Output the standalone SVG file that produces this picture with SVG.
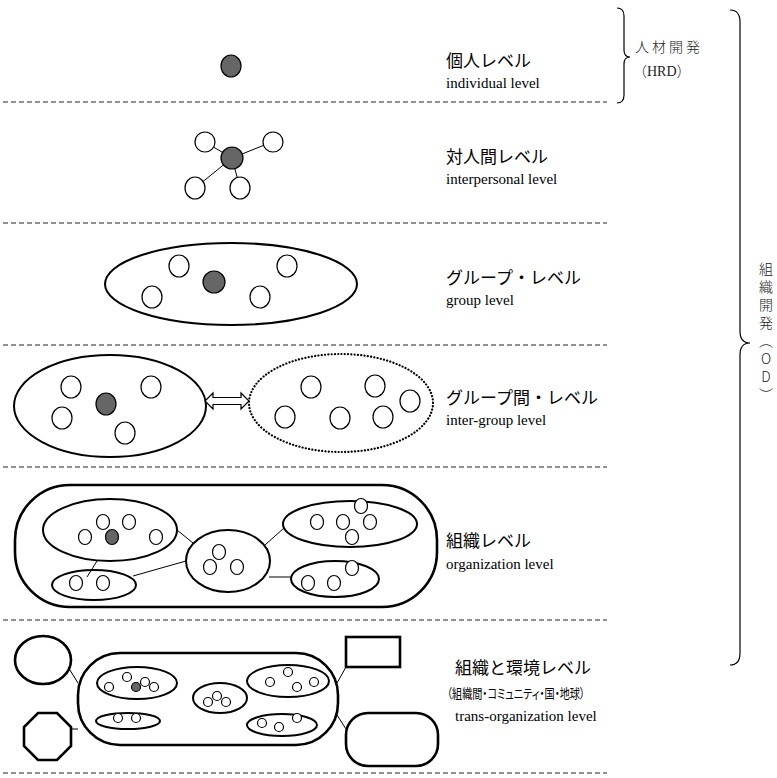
<svg xmlns="http://www.w3.org/2000/svg" width="777" height="778" viewBox="0 0 777 778">
<style>
.bg{fill:#fff}
.w{fill:#fff;stroke:#000;stroke-width:1.2}
.d{fill:#666;stroke:#000;stroke-width:1.2}
.e{fill:none;stroke:#000;stroke-width:2}
.E{fill:none;stroke:#000;stroke-width:2.6}
.dot{fill:none;stroke:#000;stroke-width:2.2;stroke-dasharray:0.1 3.2;stroke-linecap:round}
.c{stroke:#000;stroke-width:1;fill:none}
.dash{stroke:#222;stroke-width:1;stroke-dasharray:5 3}
.jp{font-family:"Noto Sans CJK JP","Noto Sans",sans-serif;font-size:17px;fill:#000}
.en{font-family:"Liberation Serif",serif;font-size:15px;fill:#000}
.note{font-family:"Noto Sans CJK JP",sans-serif;font-size:14px;fill:#222;font-weight:300}
.br{fill:none;stroke:#000;stroke-width:1.2}
</style>
<rect class="bg" x="0" y="0" width="777" height="778"/>

<g id="separators">
<line class="dash" x1="3" y1="102" x2="607" y2="102"/>
<line class="dash" x1="3" y1="223" x2="607" y2="223"/>
<line class="dash" x1="3" y1="345" x2="607" y2="345"/>
<line class="dash" x1="3" y1="467" x2="607" y2="467"/>
<line class="dash" x1="3" y1="620" x2="607" y2="620"/>
<line class="dash" x1="3" y1="773" x2="607" y2="773"/>
</g>

<g id="connectors">
<line class="c" x1="232" y1="158" x2="205" y2="142"/>
<line class="c" x1="232" y1="158" x2="272" y2="142"/>
<line class="c" x1="232" y1="158" x2="195" y2="188"/>
<line class="c" x1="232" y1="158" x2="240" y2="188"/>
<line class="c" x1="97" y1="561" x2="87" y2="577"/>
<line class="c" x1="177" y1="530" x2="193" y2="543"/>
<line class="c" x1="133" y1="576" x2="186" y2="561"/>
<line class="c" x1="265" y1="545" x2="284" y2="528"/>
<line class="c" x1="269" y1="577" x2="292" y2="577"/>
<line class="c" x1="68" y1="667" x2="78" y2="683"/>
<line class="c" x1="71" y1="729" x2="78" y2="729"/>
<line class="c" x1="337" y1="683" x2="346" y2="667"/>
<line class="c" x1="337" y1="715" x2="346" y2="729"/>
</g>

<g id="individual">
<ellipse class="d" cx="231" cy="66" rx="10" ry="11"/>
<text class="jp" x="446" y="67">個人レベル</text>
<text class="en" x="446" y="88">individual level</text>
</g>

<g id="interpersonal">
<ellipse class="d" cx="232" cy="158" rx="11" ry="11"/>
<ellipse class="w" cx="205" cy="142" rx="10" ry="10"/>
<ellipse class="w" cx="273" cy="142" rx="10" ry="10"/>
<ellipse class="w" cx="195" cy="188" rx="10" ry="11"/>
<ellipse class="w" cx="240" cy="188" rx="10" ry="11"/>
<text class="jp" x="446" y="163">対人間レベル</text>
<text class="en" x="446" y="184">interpersonal level</text>
</g>

<g id="group">
<ellipse class="e" cx="231" cy="284" rx="126" ry="41"/>
<ellipse class="w" cx="179" cy="266" rx="10" ry="11"/>
<ellipse class="w" cx="287" cy="266" rx="10" ry="11"/>
<ellipse class="w" cx="152" cy="297" rx="10" ry="11"/>
<ellipse class="w" cx="260" cy="297" rx="10" ry="11"/>
<ellipse class="d" cx="214" cy="282" rx="11" ry="11"/>
<text class="jp" x="446" y="284">グループ・レベル</text>
<text class="en" x="446" y="305">group level</text>
</g>

<g id="inter-group">
<ellipse class="e" cx="110" cy="406" rx="96" ry="51"/>
<ellipse class="w" cx="71" cy="387" rx="10" ry="11"/>
<ellipse class="w" cx="151" cy="387" rx="10" ry="11"/>
<ellipse class="w" cx="62" cy="418" rx="10" ry="11"/>
<ellipse class="d" cx="106" cy="404" rx="10" ry="11"/>
<ellipse class="w" cx="125" cy="433" rx="10" ry="11"/>
<polygon class="w" points="205,401 213,393 213,397.5 241,397.5 241,393 249,401 241,409 241,404.5 213,404.5 213,409"/>
<ellipse class="dot" cx="341" cy="403" rx="92" ry="49"/>
<ellipse class="w" cx="311" cy="387" rx="10" ry="11"/>
<ellipse class="w" cx="375" cy="386" rx="10" ry="11"/>
<ellipse class="w" cx="410" cy="401" rx="10" ry="11"/>
<ellipse class="w" cx="285" cy="417" rx="10" ry="11"/>
<ellipse class="w" cx="340" cy="418" rx="10" ry="11"/>
<ellipse class="w" cx="383" cy="417" rx="10" ry="11"/>
<text class="jp" x="446" y="404">グループ間・レベル</text>
<text class="en" x="446" y="425">inter-group level</text>
</g>

<g id="organization">
<rect class="E" x="15" y="485" width="422" height="122" rx="55" ry="55"/>
<ellipse class="e" cx="110" cy="530" rx="67" ry="31"/>
<ellipse class="w" cx="103" cy="522" rx="6.5" ry="7.5"/>
<ellipse class="w" cx="129" cy="522" rx="6.5" ry="7.5"/>
<ellipse class="w" cx="85" cy="537" rx="6.5" ry="7.5"/>
<ellipse class="d" cx="112" cy="537" rx="6.5" ry="7.5"/>
<ellipse class="w" cx="156" cy="537" rx="6.5" ry="7.5"/>
<ellipse class="e" cx="94" cy="585" rx="42" ry="15"/>
<ellipse class="w" cx="76" cy="583" rx="6.5" ry="7.5"/>
<ellipse class="w" cx="103" cy="583" rx="6.5" ry="7.5"/>
<ellipse class="e" cx="228" cy="561" rx="42" ry="31"/>
<ellipse class="w" cx="219" cy="552" rx="6.5" ry="7.5"/>
<ellipse class="w" cx="210" cy="567" rx="6.5" ry="7.5"/>
<ellipse class="w" cx="237" cy="567" rx="6.5" ry="7.5"/>
<ellipse class="e" cx="350" cy="524" rx="67" ry="23"/>
<ellipse class="w" cx="317" cy="522" rx="6.5" ry="7.5"/>
<ellipse class="w" cx="343" cy="522" rx="6.5" ry="7.5"/>
<ellipse class="w" cx="370" cy="522" rx="6.5" ry="7.5"/>
<ellipse class="w" cx="361" cy="506" rx="6.5" ry="7.5"/>
<ellipse class="w" cx="352" cy="537" rx="6.5" ry="7.5"/>
<ellipse class="e" cx="335" cy="579" rx="44" ry="18"/>
<ellipse class="w" cx="352" cy="568" rx="6.5" ry="7.5"/>
<ellipse class="w" cx="308" cy="583" rx="6.5" ry="7.5"/>
<ellipse class="w" cx="334" cy="583" rx="6.5" ry="7.5"/>
<text class="jp" x="446" y="547">組織レベル</text>
<text class="en" x="446" y="569">organization level</text>
</g>

<g id="trans-organization">
<ellipse class="E" cx="43" cy="660" rx="28" ry="24"/>
<polygon class="E" points="38,713 57,713 71,727 71,746 57,760 38,760 24,746 24,727"/>
<rect class="E" x="346" y="637" width="54" height="30"/>
<rect class="E" x="346" y="713" width="92" height="53" rx="22" ry="22"/>
<rect class="E" x="78" y="653" width="260" height="92" rx="42" ry="42"/>
<ellipse class="e" cx="137" cy="683" rx="40" ry="16"/>
<circle class="w" cx="109" cy="687" r="4.5"/>
<circle class="w" cx="127" cy="677" r="4.5"/>
<circle class="d" cx="136" cy="687" r="4.5"/>
<circle class="w" cx="145" cy="682" r="4.5"/>
<circle class="w" cx="154" cy="687" r="4.5"/>
<ellipse class="e" cx="128" cy="721" rx="32" ry="8"/>
<circle class="w" cx="118" cy="718" r="4.5"/>
<circle class="w" cx="136" cy="718" r="4.5"/>
<ellipse class="e" cx="220" cy="698" rx="27" ry="15"/>
<circle class="w" cx="208" cy="702" r="4.5"/>
<circle class="w" cx="217" cy="696" r="4.5"/>
<circle class="w" cx="226" cy="702" r="4.5"/>
<ellipse class="e" cx="288" cy="681" rx="41" ry="16"/>
<circle class="w" cx="270" cy="682" r="4.5"/>
<circle class="w" cx="288" cy="672" r="4.5"/>
<circle class="w" cx="297" cy="687" r="4.5"/>
<circle class="w" cx="314" cy="682" r="4.5"/>
<ellipse class="e" cx="282" cy="725" rx="35" ry="11"/>
<circle class="w" cx="262" cy="723" r="4.5"/>
<circle class="w" cx="279" cy="727" r="4.5"/>
<circle class="w" cx="297" cy="718" r="4.5"/>
<text class="jp" x="455" y="674">組織と環境レベル</text>
<text class="jp" x="447" y="698" style="font-size:13px;font-feature-settings:'palt'" textLength="138" lengthAdjust="spacingAndGlyphs">（組織間・コミュニティ・国・地球）</text>
<text class="en" x="455" y="721">trans-organization level</text>
</g>

<g id="hrd">
<path class="br" d="M617,8 Q624,8 624,16 L624,50 Q624,57 630,57 Q624,57 624,64 L624,95 Q624,103 617,103"/>
<text class="note" x="635" y="52" letter-spacing="3">人材開発</text>
<text class="note" x="633" y="76">（<tspan style="font-family:'Liberation Serif',serif">HRD</tspan>）</text>
</g>

<g id="od">
<path class="br" d="M730,10 Q740,10 740,22 L740,331 Q740,343 750,343 Q740,343 740,355 L740,653 Q740,665 730,665"/>
<text class="note" x="766" y="262" style="writing-mode:vertical-rl;text-orientation:upright;letter-spacing:4px">組織開発（OD）</text>
</g>
</svg>
